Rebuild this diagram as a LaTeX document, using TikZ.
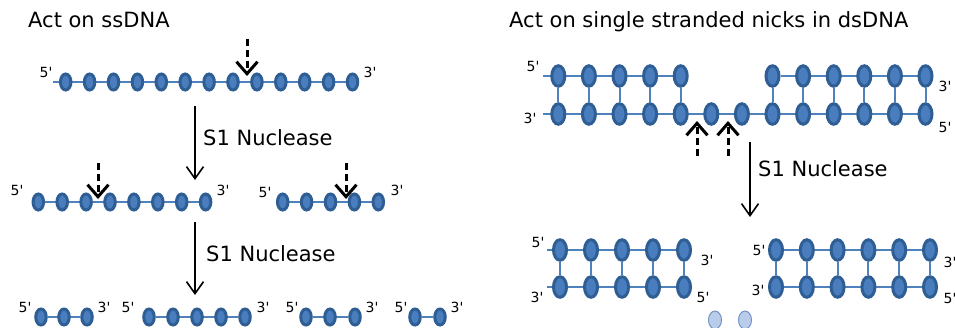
\documentclass[tikz,border=0pt]{standalone}
\usepackage{fontspec}
\setmainfont{DejaVu Sans}
\usepackage{tikz}
\usetikzlibrary{shapes.geometric,arrows.meta}
\definecolor{beadRim}{HTML}{2F5E94}
\definecolor{beadCore}{HTML}{4A7DBD}
\definecolor{strand}{HTML}{4F81BD}
\definecolor{freeCore}{HTML}{B9CDEA}
\definecolor{freeRim}{HTML}{7393C4}
\pgfdeclarelayer{back}
\pgfsetlayers{back,main}
\newcommand{\fiveP}{5\textquotesingle}
\newcommand{\threeP}{3\textquotesingle}

\begin{document}
\begin{tikzpicture}[
    x=1pt, y=-1pt,
    every node/.style={font=\fontsize{14}{16}\selectfont, inner sep=0pt},
    head/.style={font=\fontsize{21}{25}\selectfont, anchor=base west},
    enz/.style={font=\fontsize{21}{25}\selectfont, anchor=base west},
    bead/.style={ellipse, draw=beadRim, fill=beadCore, line width=3pt,
                 minimum width=10.5pt, minimum height=16pt},
    dbead/.style={bead, minimum width=13pt, minimum height=20.5pt},
    freebead/.style={bead, draw=freeRim, fill=freeCore, line width=1pt,
                 minimum width=13pt, minimum height=18pt},
    bb/.style={draw=strand, line width=2pt},
    nick/.style={draw=black, line width=3pt, dash pattern=on 7pt off 4pt,
                 -{Straight Barb[length=12pt,width=21pt]}},
    s1arrow/.style={draw=black, line width=1.6pt,
                 -{Straight Barb[length=12pt,width=17pt]}},
]
  \useasboundingbox (0,0) rectangle (955,327);
  % headings
  \node[head] (hdSs) at (28,27) {Act on ssDNA};
  \node[head] (hdDs) at (509,27) {Act on single stranded nicks in dsDNA};

  % ---- ssDNA, row 1
  \coordinate (a0) at (53,82);
  \foreach \i in {1,...,13} \node[bead] (a\i) at ({65.7+23.9*(\i-1)},82) {};
  \node (aL) at (46,72) {\fiveP};
  \node (aR) at (370,72) {\threeP};
  \coordinate (cutA) at (247,39);
  \coordinate (cutAt) at (247,76);
  \draw[nick] (cutA) -- (cutAt);
  % first S1 step
  \coordinate (stA) at (195,106);
  \coordinate (stAt) at (195,180);
  \draw[s1arrow] (stA) -- (stAt);
  \node[enz] (enzA) at (203,145) {S1 Nuclease};

  % ---- row 2
  \foreach \i in {1,...,8} \node[bead] (b\i) at ({38.3+23.9*(\i-1)},202) {};
  \node (bL) at (17,190) {\fiveP};
  \node (bR) at (223,190) {\threeP};
  \foreach \i in {1,...,5} \node[bead] (c\i) at ({282.7+23.9*(\i-1)},202) {};
  \node (cL) at (265,192) {\fiveP};
  \node (cR) at (397,190) {\threeP};
  \coordinate (cutB) at (98,163);
  \coordinate (cutBt) at (98,199);
  \draw[nick] (cutB) -- (cutBt);
  \coordinate (cutC) at (346,163);
  \coordinate (cutCt) at (346,199);
  \draw[nick] (cutC) -- (cutCt);
  % second S1 step
  \coordinate (stB) at (195,222);
  \coordinate (stBt) at (195,295);
  \draw[s1arrow] (stB) -- (stBt);
  \node[enz] (enzB) at (206,261) {S1 Nuclease};

  % ---- row 3 (fragments)
  \foreach \i/\x in {1/41,2/64,3/87} \node[bead] (d\i) at (\x,317) {};
  \foreach \i/\x in {1/149,2/173,3/197,4/221,5/245} \node[bead] (e\i) at (\x,317) {};
  \foreach \i/\x in {1/306,2/330,3/355} \node[bead] (f\i) at (\x,317) {};
  \foreach \i/\x in {1/415,2/440} \node[bead] (g\i) at (\x,317) {};
  \node (dL) at (25,307) {\fiveP};   \node (dR) at (104,307) {\threeP};
  \node (eL) at (128,307) {\fiveP};  \node (eR) at (263,307) {\threeP};
  \node (fL) at (292,307) {\fiveP};  \node (fR) at (372,307) {\threeP};
  \node (gL) at (401,307) {\fiveP};  \node (gR) at (457,307) {\threeP};

  % ---- dsDNA with nicks
  \coordinate (t0) at (543,76);
  \coordinate (u0) at (543,114);
  \foreach \i in {1,...,5,8,9,...,13} \node[dbead] (t\i) at ({558.3+30.6*(\i-1)},76) {};
  \foreach \i in {1,...,13} \node[dbead] (u\i) at ({558.3+30.6*(\i-1)},114) {};
  \node (tL) at (533,66) {\fiveP};
  \node (uL) at (530,118) {\threeP};
  \node (tR) at (945,86) {\threeP};
  \node (uR) at (945,127) {\fiveP};
  \coordinate (nkA) at (697,156);
  \coordinate (nkAt) at (697,121);
  \draw[nick] (nkA) -- (nkAt);
  \coordinate (nkB) at (728,156);
  \coordinate (nkBt) at (728,121);
  \draw[nick] (nkB) -- (nkBt);
  % third S1 step
  \coordinate (stC) at (750,142);
  \coordinate (stCt) at (750,217);
  \draw[s1arrow] (stC) -- (stCt);
  \node[enz] (enzC) at (758,176) {S1 Nuclease};

  % ---- products
  \coordinate (v0) at (547,250);
  \coordinate (w0) at (547,287);
  \foreach \i in {1,...,5} {
    \node[dbead] (v\i) at ({560+31*(\i-1)},250) {};
    \node[dbead] (w\i) at ({560+31*(\i-1)},287) {};
  }
  \node (vL) at (538,242) {\fiveP};
  \node (wL) at (537,297) {\threeP};
  \node (vR) at (707,260) {\threeP};
  \node (wR) at (703,297) {\fiveP};
  \foreach \i in {1,...,6} {
    \node[dbead] (p\i) at ({776+30.8*(\i-1)},250) {};
    \node[dbead] (q\i) at ({776+30.8*(\i-1)},287) {};
  }
  \node (pL) at (759,250) {\fiveP};
  \node (qL) at (758,290) {\threeP};
  \node (pR) at (950,262) {\threeP};
  \node (qR) at (950,298) {\fiveP};
  % released nucleotides
  \node[freebead] (relA) at (715,320) {};
  \node[freebead] (relB) at (745,320) {};

  % backbones and base pairs
  \begin{pgfonlayer}{back}
    \draw[bb] (a0) -- (a13);
    \draw[bb] (b1) -- (b8);
    \draw[bb] (c1) -- (c5);
    \draw[bb] (d1) -- (d3);
    \draw[bb] (e1) -- (e5);
    \draw[bb] (f1) -- (f3);
    \draw[bb] (g1) -- (g2);
    \draw[bb] (t0) -- (t5);
    \draw[bb] (t8) -- (t13);
    \draw[bb] (u0) -- (u13);
    \foreach \i in {1,...,5,8,9,...,13} \draw[bb] (t\i) -- (u\i);
    \draw[bb] (v0) -- (v5);
    \draw[bb] (w0) -- (w5);
    \draw[bb] (p1) -- (p6);
    \draw[bb] (q1) -- (q6);
    \foreach \i in {1,...,5} \draw[bb] (v\i) -- (w\i);
    \foreach \i in {1,...,6} \draw[bb] (p\i) -- (q\i);
  \end{pgfonlayer}
\end{tikzpicture}
\end{document}
